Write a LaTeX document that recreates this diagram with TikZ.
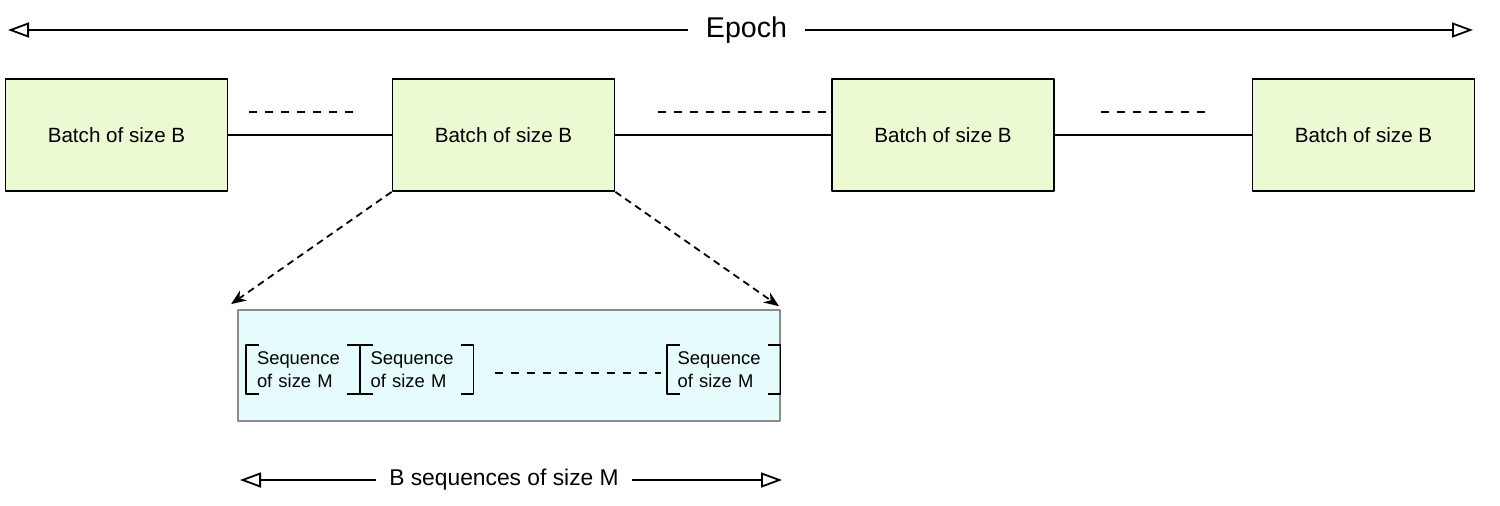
\documentclass[tikz,border=0pt]{standalone}
\usepackage{fontspec}
\setmainfont{Liberation Sans}
\usetikzlibrary{arrows.meta}
\definecolor{batchgreen}{RGB}{236,250,212}
\definecolor{seqcyan}{RGB}{230,252,252}
\begin{document}
\begin{tikzpicture}[x=0.5pt, y=-0.5pt, line join=round, line width=0.9pt,
	batch/.style={draw, fill=batchgreen, minimum width=111pt, minimum height=56pt, font=\fontsize{10.3}{12}\selectfont},
	seq/.style={text width=46pt, align=left, inner xsep=5pt, inner ysep=0pt, minimum height=23.5pt, font=\fontsize{9.2}{11.5}\selectfont},
	dots/.style={dash pattern=on 4pt off 4pt},
	tri/.style={-{Triangle[open,length=10.5pt,width=7.5pt]}},
	zoomarrow/.style={dash pattern=on 3.5pt off 2.5pt, -{Stealth[length=7.5pt,width=6pt]}}]
	\def\tick{6.5pt} % bracket tick
	\useasboundingbox (0,0) rectangle (1500,505);
	% epoch
	\node[font=\fontsize{14.3}{16}\selectfont, inner xsep=8.5pt] (epoch) at (746.5,30) {Epoch};
	\coordinate (epl) at (8,30); \coordinate (epr) at (1473,30);
	\draw[tri] (epoch) -- (epl);
	\draw[tri] (epoch) -- (epr);
	% batches
	\node[batch] (b1) at (116.5,135) {Batch of size B};
	\node[batch] (b2) at (503.5,135) {Batch of size B};
	\node[batch] (b3) at (943,135) {Batch of size B};
	\node[batch] (b4) at (1363.5,135) {Batch of size B};
	\draw (b1) -- (b2) (b2) -- (b3) (b3) -- (b4);
	\draw[dots] (249,112) -- (356,112) (658,112) -- (826,112) (1101,112) -- (1210,112);
	% sequences
	\node[draw=gray!90, fill=seqcyan, minimum width=271pt, minimum height=55.5pt] (sbox) at (509,365.5) {};
	\node[seq] (s1) at (303,369.5) {Sequence\\of size M};
	\node[seq] (s2) at (416.7,369.5) {Sequence\\of size M};
	\node[seq] (s3) at (723.7,369.5) {Sequence\\of size M};
	\foreach \s in {s1,s2,s3}
	\draw[line width=0.7pt] ([xshift=\tick]\s.north west) -- (\s.north west) -- (\s.south west) -- ++(\tick,0)
	([xshift=-\tick]\s.north east) -- (\s.north east) -- (\s.south east) -- ++(-\tick,0);
	\draw[dots] (495,373) -- (661,373);
	\draw[zoomarrow] (b2.south west) -- ([xshift=-3pt,yshift=2.5pt]sbox.north west);
	\draw[zoomarrow] (b2.south east) -- ([xshift=-1pt,yshift=1.5pt]sbox.north east);
	% bottom label
	\node[font=\fontsize{11.4}{13}\selectfont, inner xsep=6pt] (bseq) at (504,480) {B sequences of size M};
	\coordinate (bl) at (240,480); \coordinate (br) at (782,480);
	\draw[tri] (bseq) -- (bl);
	\draw[tri] (bseq) -- (br);
\end{tikzpicture}
\end{document}
